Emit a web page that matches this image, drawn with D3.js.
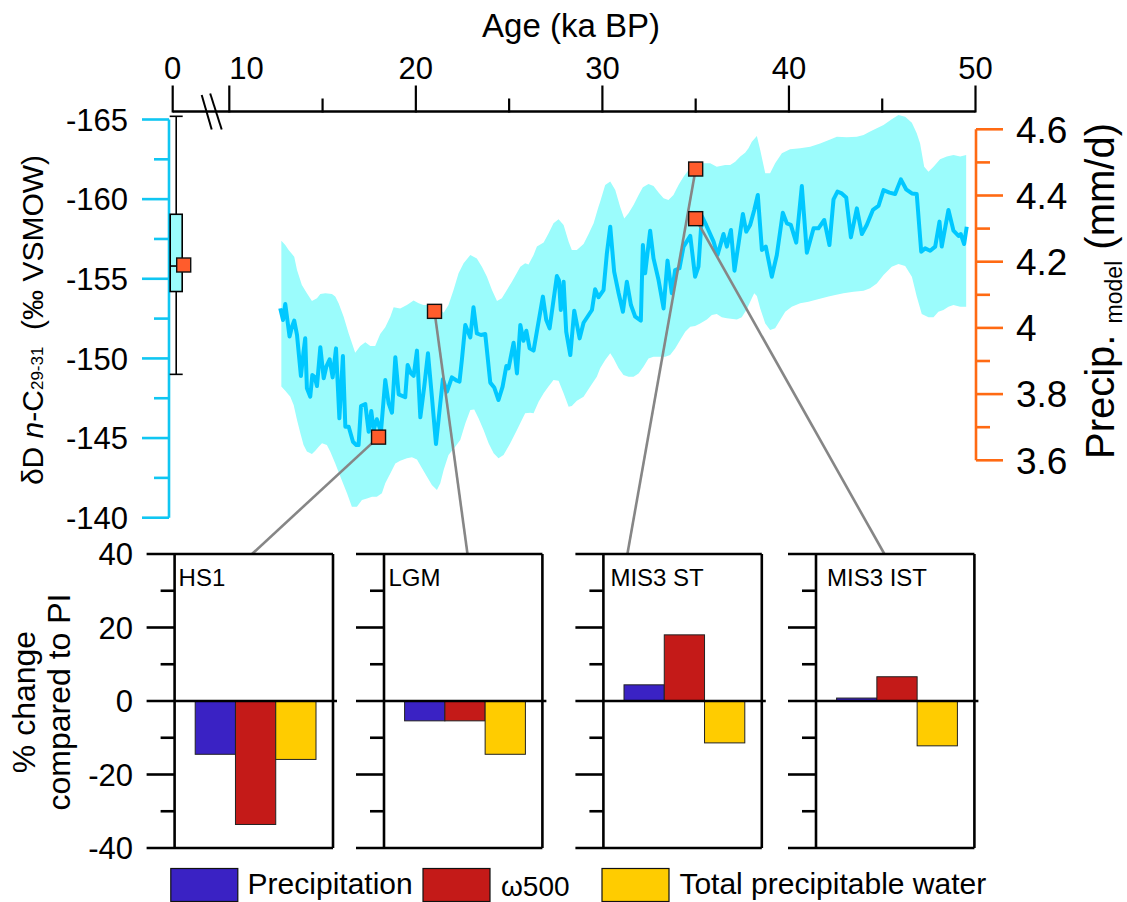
<!DOCTYPE html>
<html><head><meta charset="utf-8">
<script src="https://cdn.jsdelivr.net/npm/d3@7"></script>
<style>html,body{margin:0;padding:0;background:#fff;} svg{display:block;}</style>
</head><body><svg id="c" width="1127" height="902"></svg>
<script>
// ---------- DATA ----------
const lineAge = [12.73,12.88,13.00,13.23,13.36,13.48,13.63,13.84,13.98,14.07,14.16,14.34,14.45,14.57,14.70,14.88,15.06,15.20,15.38,15.54,15.72,15.90,16.09,16.22,16.40,16.63,16.81,16.93,17.06,17.29,17.47,17.61,17.74,17.91,18.13,18.36,18.54,18.72,18.90,19.08,19.43,19.56,19.74,19.88,20.06,20.24,20.45,20.65,20.86,21.08,21.31,21.45,21.67,21.93,22.20,22.34,22.47,22.65,22.92,23.09,23.27,23.49,23.72,23.99,24.20,24.43,24.65,24.85,24.97,25.24,25.42,25.60,25.77,25.92,26.10,26.31,26.81,26.99,27.17,27.56,27.67,27.77,27.92,28.06,28.28,28.49,28.78,28.99,29.44,29.61,29.79,
30.06,30.24,30.42,30.63,30.87,31.10,31.31,31.53,31.76,32.06,32.17,32.29,32.56,32.74,33.01,33.28,33.49,33.72,33.90,34.13,34.35,34.71,34.97,35.15,35.33,35.56,35.96,36.17,36.35,36.49,36.67,36.89,37.08,37.30,37.53,37.71,37.92,38.14,38.33,38.55,38.76,39.08,39.35,39.67,39.89,40.10,40.39,40.69,40.96,41.32,41.58,41.89,42.17,42.39,42.60,42.83,43.07,43.32,43.64,43.91,44.17,44.50,44.80,45.07,45.39,45.69,46.00,46.28,46.59,46.85,47.09,47.30,47.57,47.84,48.07,48.19,48.55,48.82,49.09,49.21,49.39,49.53];
const lineDD = [-153.14,-152.41,-153.42,-151.37,-151.99,-152.37,-151.47,-148.90,-150.42,-151.26,-148.12,-147.60,-148.96,-148.85,-148.27,-150.70,-148.75,-149.48,-149.94,-148.81,-150.63,-146.24,-150.15,-145.71,-145.71,-144.77,-144.56,-144.56,-147.01,-147.14,-145.40,-146.70,-145.51,-146.18,-145.40,-148.64,-147.18,-146.59,-150.07,-147.74,-147.56,-149.59,-149.06,-148.90,-150.49,-146.30,-148.23,-150.32,-147.60,-144.63,-147.18,-148.69,-147.91,-148.81,-148.60,-148.54,-149.94,-152.10,-151.32,-153.21,-151.57,-151.47,-151.53,-148.48,-148.18,-147.39,-148.23,-149.52,-149.38,-150.99,-149.06,-152.10,-151.11,-151.74,-150.63,-150.49,-153.88,-152.41,-151.89,-155.17,-154.92,-153.04,-154.82,-151.68,-150.21,-153.00,-151.26,-152.24,-153.04,-154.34,-153.84,
-154.29,-156.60,-158.27,-155.45,-154.09,-152.93,-154.82,-153.35,-152.62,-152.37,-157.12,-155.34,-158.02,-156.28,-154.92,-153.14,-156.14,-154.09,-155.55,-155.66,-157.02,-157.69,-155.13,-155.76,-158.94,-158.38,-157.33,-156.49,-157.22,-157.81,-157.02,-158.06,-155.51,-157.22,-159.07,-157.96,-158.38,-159.32,-160.26,-156.81,-157.02,-155.13,-156.49,-159.15,-158.48,-158.38,-157.27,-160.82,-156.64,-158.17,-158.17,-158.69,-157.12,-159.99,-160.47,-160.36,-160.11,-157.60,-159.42,-157.81,-158.38,-159.32,-159.57,-160.57,-160.41,-160.32,-161.24,-160.62,-160.36,-160.32,-156.70,-156.91,-156.76,-157.02,-158.59,-157.02,-159.32,-158.02,-157.69,-157.81,-157.18,-158.27];

const bandHiAge = [12.79,13.00,13.18,13.48,13.63,13.89,14.16,14.43,14.70,14.88,15.15,15.50,15.68,15.86,16.13,16.40,16.75,17.02,17.29,17.56,17.82,18.09,18.36,18.63,18.81,19.16,19.52,19.88,20.15,20.41,20.68,20.95,21.31,21.49,21.75,22.02,22.29,22.56,22.92,23.27,23.54,23.81,24.08,24.35,24.61,24.88,25.15,25.42,25.60,25.86,26.04,26.31,26.49,26.85,27.11,27.38,27.65,27.92,28.19,28.36,28.63,28.99,29.26,29.53,29.79,
29.88,30.15,30.42,30.69,30.95,31.17,31.40,31.67,31.94,32.17,32.47,32.74,33.01,33.28,33.54,33.81,34.08,34.35,34.62,34.88,35.24,35.78,36.13,36.58,36.85,37.12,37.39,37.65,37.83,38.01,38.28,38.46,38.73,38.99,39.26,39.62,40.06,40.60,41.14,41.67,42.21,42.57,43.10,43.64,44.00,44.35,44.71,45.07,45.51,45.87,46.23,46.59,46.85,47.03,47.25,47.48,47.75,48.10,48.46,48.82,49.18,49.50];
const bandHi = [-157.39,-157.12,-156.81,-156.39,-155.55,-154.61,-154.09,-153.60,-153.77,-154.04,-154.09,-154.04,-153.88,-153.46,-152.62,-151.57,-150.36,-150.78,-151.01,-150.78,-150.78,-151.53,-151.95,-152.62,-153.21,-153.14,-153.35,-153.63,-153.46,-153.35,-153.35,-153.42,-153.04,-152.87,-153.35,-154.30,-155.34,-155.97,-156.49,-156.28,-155.76,-155.13,-154.30,-153.60,-153.77,-154.30,-154.82,-155.38,-155.76,-155.97,-155.89,-156.49,-157.02,-157.27,-157.85,-158.48,-158.73,-158.38,-157.33,-156.81,-156.81,-157.18,-157.81,-158.48,-159.53,
-159.84,-160.89,-161.10,-160.57,-159.53,-158.79,-159.11,-159.63,-160.26,-160.74,-160.95,-160.82,-160.41,-160.05,-159.95,-160.26,-160.89,-161.41,-161.83,-162.14,-162.25,-162.25,-162.04,-162.14,-162.14,-162.35,-162.67,-162.92,-163.19,-163.61,-163.96,-163.09,-161.62,-161.62,-162.25,-162.88,-163.13,-163.19,-163.29,-163.50,-163.75,-163.92,-163.88,-163.92,-164.03,-164.24,-164.45,-164.65,-165.01,-165.28,-165.18,-164.80,-164.13,-163.50,-162.04,-161.72,-162.04,-162.50,-162.67,-162.77,-162.67,-162.77];

const bandLoAge = [12.79,13.00,13.27,13.45,13.63,13.81,13.98,14.16,14.43,14.61,14.79,14.97,15.23,15.41,15.68,15.95,16.31,16.57,16.84,17.11,17.38,17.65,17.91,18.18,18.36,18.63,18.90,19.16,19.52,19.79,20.06,20.33,20.59,20.86,21.13,21.31,21.49,21.75,22.11,22.38,22.65,22.92,23.13,23.36,23.63,23.90,24.17,24.43,24.70,25.06,25.42,25.68,25.86,26.13,26.31,26.58,26.85,27.11,27.38,27.65,27.92,28.19,28.36,28.63,28.99,29.35,29.70,
29.88,30.15,30.42,30.60,30.87,31.13,31.40,31.67,31.94,32.20,32.47,32.74,33.37,33.63,33.90,34.17,34.44,34.71,34.97,35.24,35.60,35.87,36.13,36.40,36.67,37.21,37.47,37.74,38.01,38.14,38.28,38.46,38.73,38.99,39.26,39.53,39.80,40.15,40.60,41.05,41.40,41.76,42.12,42.48,42.92,43.46,44.00,44.35,44.71,45.07,45.51,45.87,46.23,46.59,46.85,47.12,47.48,47.75,48.01,48.28,48.55,48.82,49.18,49.50];
const bandLo = [-148.23,-147.97,-147.60,-147.08,-146.13,-145.30,-144.56,-144.15,-144.00,-144.21,-144.46,-144.67,-144.56,-144.15,-143.41,-142.58,-141.53,-140.69,-140.69,-141.11,-141.21,-141.32,-141.32,-141.53,-142.16,-142.78,-143.41,-143.58,-143.73,-143.79,-143.66,-143.10,-142.58,-142.05,-141.74,-142.16,-142.99,-143.94,-144.46,-144.88,-145.92,-146.76,-146.80,-146.24,-145.51,-144.67,-144.04,-143.73,-143.94,-144.67,-145.51,-146.13,-146.55,-146.59,-146.55,-147.28,-147.81,-148.23,-148.64,-148.60,-147.81,-146.97,-147.01,-147.35,-147.60,-148.23,-148.85,
-149.38,-149.90,-150.32,-150.00,-149.38,-148.96,-148.85,-148.85,-149.06,-149.48,-150.00,-150.11,-150.11,-150.21,-150.63,-151.16,-151.68,-151.99,-152.03,-152.20,-152.45,-152.73,-152.79,-152.58,-152.52,-152.45,-152.58,-153.08,-153.77,-154.09,-153.92,-153.14,-152.20,-151.78,-151.89,-152.41,-152.93,-153.25,-153.46,-153.56,-153.67,-153.77,-153.88,-153.98,-154.09,-154.19,-154.25,-154.40,-154.71,-155.24,-155.76,-155.93,-155.80,-155.13,-153.88,-152.79,-152.58,-152.58,-152.93,-153.04,-153.25,-153.35,-153.25,-153.25];

// PI modern distribution (box plot): low whisker, q1, median, q3, high whisker
const piBoxStats = [-165.2, -159.05, -155.8, -154.2, -149.0];

// model precipitation (mm/d) at time slices
const periodNames = ["PI", "HS1", "LGM", "MIS3 ST", "MIS3 IST"];
const periodAge = [0, 18, 21, 35, 35];
const periodPrecip = [4.19, 3.67, 4.05, 4.48, 4.33];

// % change compared to PI
const panelNames = ["HS1", "LGM", "MIS3 ST", "MIS3 IST"];
const seriesNames = ["Precipitation", "ω500", "Total precipitable water"];
const precipChange = [-14.5, -5.4, 4.4, 0.8];
const omegaChange = [-33.6, -5.4, 18.0, 6.6];
const tpwChange = [-15.9, -14.5, -11.4, -12.2];
const seriesColors = ["#3a22c4", "#c41a18", "#ffcc00"];

const topMajor = [10, 20, 30, 40, 50];
const topMinor = [15, 25, 35, 45];
const leftMajor = [-165, -160, -155, -150, -145, -140];
const leftMinor = [-162.5, -157.5, -152.5, -147.5, -142.5];
const rightMajor = [3.6, 3.8, 4.0, 4.2, 4.4, 4.6];
const rightMinor = [3.7, 3.9, 4.1, 4.3, 4.5];
const barMajor = [-40, -20, 0, 20, 40];
const barMinor = [-30, -10, 10, 30];

// ---------- LAYOUT ----------
const FONT = "'Liberation Sans', Arial, Helvetica, sans-serif";
const svg = d3.select("#c").attr("font-family", FONT);
const CYAN = "#10c6f2", ORANGE = "#ff6a13";

const xAge = d3.scaleLinear().domain([10, 50]).range([229.3, 975.5]);
const xPre = d3.scaleLinear().domain([0, 10]).range([172.7, 229.3]);
const yD = d3.scaleLinear().domain([-165, -140]).range([119.5, 517.7]);
const yP = d3.scaleLinear().domain([3.6, 4.6]).range([460.3, 129.3]);
const yB = d3.scaleLinear().domain([-40, 40]).range([848, 554]);
const xPos = a => a >= 10 ? xAge(a) : xPre(a);

// ---------- band + line ----------
const pts = (xs, ys) => xs.map((a, i) => [a, ys[i]]);
const upper = pts(bandHiAge, bandHi);
const lower = pts(bandLoAge, bandLo).reverse();
const lineGen = d3.line().x(d => xAge(d[0])).y(d => yD(d[1]));
svg.append("path").attr("d", lineGen(upper.concat(lower)) + "Z")
  .attr("fill", "#9bfcfc").attr("stroke", "none");
svg.append("path").attr("d", lineGen(pts(lineAge, lineDD)))
  .attr("fill", "none").attr("stroke", "#00c8ff").attr("stroke-width", 4)
  .attr("stroke-linejoin", "round");

// ---------- top axis ----------
const axY = 111.5;
const gT = svg.append("g").attr("stroke", "#000");
gT.append("line").attr("x1", xPre(0)).attr("x2", xAge(50)).attr("y1", axY).attr("y2", axY).attr("stroke-width", 2.5);
gT.append("line").attr("x1", xPre(0)).attr("x2", xPre(0)).attr("y1", axY - 26).attr("y2", axY + 1).attr("stroke-width", 2.2);
gT.selectAll(".tM").data(topMajor).join("line").attr("x1", d => xAge(d)).attr("x2", d => xAge(d))
  .attr("y1", axY - 26).attr("y2", axY + 1).attr("stroke-width", 2.2);
gT.selectAll(".tm").data(topMinor).join("line").attr("x1", d => xAge(d)).attr("x2", d => xAge(d))
  .attr("y1", axY - 13).attr("y2", axY + 1).attr("stroke-width", 2.2);
// axis break marks
const bx = xPre(0);
gT.append("line").attr("x1", bx + 29).attr("y1", 95).attr("x2", bx + 39).attr("y2", 129.5).attr("stroke-width", 2);
gT.append("line").attr("x1", bx + 37.5).attr("y1", 93.5).attr("x2", bx + 49).attr("y2", 129.5).attr("stroke-width", 2);
const tl = svg.append("g").attr("font-size", 31).attr("fill", "#000");
tl.append("text").attr("x", xPre(0)).attr("y", 79).attr("text-anchor", "middle").text("0");
tl.selectAll(".lb").data(topMajor).join("text")
  .attr("x", d => xAge(d)).attr("y", 79)
  .attr("text-anchor", d => d === 10 ? "start" : "middle").text(d => d);
svg.append("text").attr("x", 571).attr("y", 37).attr("text-anchor", "middle")
  .attr("font-size", 33).text("Age (ka BP)");

// ---------- left axis ----------
const axL = 169;
const gL = svg.append("g").attr("stroke", CYAN).attr("stroke-width", 2.6);
gL.append("line").attr("x1", axL).attr("x2", axL).attr("y1", yD(-165)).attr("y2", yD(-140));
gL.selectAll(".a").data(leftMajor).join("line").attr("x1", axL - 27).attr("x2", axL).attr("y1", d => yD(d)).attr("y2", d => yD(d));
gL.selectAll(".b").data(leftMinor).join("line").attr("x1", axL - 15).attr("x2", axL).attr("y1", d => yD(d)).attr("y2", d => yD(d));
svg.append("g").attr("font-size", 31).selectAll("text").data(leftMajor).join("text")
  .attr("x", 128).attr("y", d => yD(d)).attr("dy", "0.36em").attr("text-anchor", "end").text(d => d);
const lt = svg.append("text").attr("transform", "translate(43,320) rotate(-90)")
  .attr("text-anchor", "middle").attr("font-size", 30).style("white-space", "pre");
lt.append("tspan").text("δD ");
lt.append("tspan").attr("font-style", "italic").text("n");
lt.append("tspan").text("-C");
lt.append("tspan").attr("font-size", 17).text("29-31");
lt.append("tspan").text("  (‰ VSMOW)");

// ---------- right axis ----------
const axR = 976;
const gR = svg.append("g").attr("stroke", ORANGE).attr("stroke-width", 2.6);
gR.append("line").attr("x1", axR).attr("x2", axR).attr("y1", yP(3.6)).attr("y2", yP(4.6));
gR.selectAll(".a").data(rightMajor).join("line").attr("x1", axR).attr("x2", axR + 27).attr("y1", d => yP(d)).attr("y2", d => yP(d));
gR.selectAll(".b").data(rightMinor).join("line").attr("x1", axR).attr("x2", axR + 14).attr("y1", d => yP(d)).attr("y2", d => yP(d));
svg.append("g").attr("font-size", 37).selectAll("text").data(rightMajor).join("text")
  .attr("x", 1016).attr("y", d => yP(d)).attr("dy", "0.36em").text(d => d3.format("~g")(d));
const rt = svg.append("text").attr("transform", "translate(1113.6,291) rotate(-90)")
  .attr("text-anchor", "middle").attr("font-size", 40).style("white-space", "pre");
rt.append("tspan").text("Precip. ");
rt.append("tspan").attr("font-size", 23).attr("dy", 8).text("model");
rt.append("tspan").attr("dy", -8).text(" (mm/d)");

// ---------- PI box plot ----------
const bxC = xPre(0) + 3.5, bw = 12;
const gB = svg.append("g").attr("stroke", "#000").attr("stroke-width", 1.6);
gB.append("line").attr("x1", bxC).attr("x2", bxC).attr("y1", yD(piBoxStats[0])).attr("y2", yD(piBoxStats[4]));
[piBoxStats[0], piBoxStats[4]].forEach(v => gB.append("line").attr("x1", bxC - 6.5).attr("x2", bxC + 6.5).attr("y1", yD(v)).attr("y2", yD(v)));
gB.append("rect").attr("x", bxC - bw / 2).attr("width", bw).attr("y", yD(piBoxStats[1]))
  .attr("height", yD(piBoxStats[3]) - yD(piBoxStats[1])).attr("fill", "#9bfcfc");
gB.append("line").attr("x1", bxC - bw / 2).attr("x2", bxC + bw / 2).attr("y1", yD(piBoxStats[2])).attr("y2", yD(piBoxStats[2]));

// ---------- bar panels ----------
const panelLeft = [174.6, 384, 603.4, 816];
const panelW = 158.4;
const connX = [77.4, 83.5, 24, 68.4];
const labelDx = [4, 4.5, 7, 11];
const barTop = yB(40);

// connectors (from model squares to panels)
panelNames.forEach((p, i) => {
  const k = periodNames.indexOf(p);
  svg.append("line").attr("x1", xPos(periodAge[k])).attr("y1", yP(periodPrecip[k]))
    .attr("x2", panelLeft[i] + connX[i]).attr("y2", barTop)
    .attr("stroke", "#868686").attr("stroke-width", 2.6);
});

// squares
svg.append("g").selectAll("rect").data(periodNames).join("rect")
  .attr("x", (d, i) => (i === 0 ? xPre(0) + 11 : xPos(periodAge[i])) - 7)
  .attr("y", (d, i) => yP(periodPrecip[i]) - 7)
  .attr("width", 14).attr("height", 14)
  .attr("fill", "#ff5c2c").attr("stroke", "#111").attr("stroke-width", 1.4);

const changes = [precipChange, omegaChange, tpwChange];
panelNames.forEach((p, i) => {
  const L = panelLeft[i], R = L + panelW;
  const g = svg.append("g");
  const xb = d3.scaleBand().domain(seriesNames).range([L + 20.6, L + 141.4]).padding(0);
  g.selectAll("rect").data(seriesNames).join("rect")
    .attr("x", d => xb(d)).attr("width", xb.bandwidth())
    .attr("y", (d, j) => Math.min(yB(0), yB(changes[j][i])))
    .attr("height", (d, j) => Math.abs(yB(changes[j][i]) - yB(0)))
    .attr("fill", (d, j) => seriesColors[j]).attr("stroke", "#222").attr("stroke-width", 1);
  const ax = g.append("g").attr("stroke", "#000").attr("stroke-width", 2.6);
  ax.append("line").attr("x1", L).attr("x2", L).attr("y1", yB(40)).attr("y2", yB(-40));
  ax.append("line").attr("x1", R).attr("x2", R).attr("y1", yB(40)).attr("y2", yB(-40));
  ax.selectAll(".M").data(barMajor).join("line")
    .attr("x1", L - 28).attr("x2", d => d === 0 ? R + 4 : (d === 40 || d === -40 ? R : L))
    .attr("y1", d => yB(d)).attr("y2", d => yB(d));
  ax.selectAll(".m").data(barMinor).join("line")
    .attr("x1", L - 14).attr("x2", L).attr("y1", d => yB(d)).attr("y2", d => yB(d));
  g.append("text").attr("x", L + labelDx[i]).attr("y", 585.5).attr("font-size", 24).text(p);
});
svg.append("g").attr("font-size", 31).selectAll("text").data(barMajor).join("text")
  .attr("x", 133).attr("y", d => yB(d)).attr("dy", "0.36em").attr("text-anchor", "end").text(d => d);
svg.append("text").attr("transform", "translate(35,702) rotate(-90)").attr("text-anchor", "middle")
  .attr("font-size", 32).text("% change");
svg.append("text").attr("transform", "translate(70,702) rotate(-90)").attr("text-anchor", "middle")
  .attr("font-size", 32).text("compared to PI");

// ---------- legend ----------
const legX = [170.8, 423, 602];
const legTX = [247.6, 501, 679.4];
const legSize = [30, 28, 30];
const lg = svg.append("g");
seriesNames.forEach((s, j) => {
  lg.append("rect").attr("x", legX[j]).attr("y", 868.5).attr("width", 67).attr("height", 33)
    .attr("fill", seriesColors[j]).attr("stroke", "#111").attr("stroke-width", 1.2);
  lg.append("text").attr("x", legTX[j]).attr("y", j === 1 ? 896 : 894).attr("font-size", legSize[j]).text(s);
});
</script></body></html>
